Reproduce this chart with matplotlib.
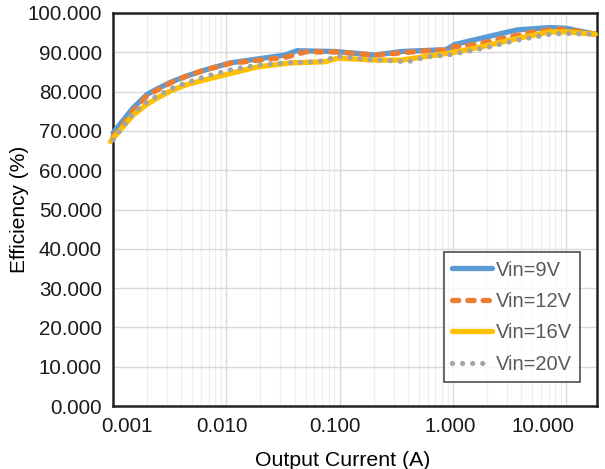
import numpy as np
import matplotlib
matplotlib.use("Agg")
import matplotlib.pyplot as plt
import matplotlib.transforms as mtransforms
from matplotlib.ticker import FixedLocator, FuncFormatter, NullFormatter, LogLocator

plt.rcParams['font.family'] = ['Liberation Sans', 'DejaVu Sans']

# ---- data (output current in A, efficiency in %)
x_9v = [0.001, 0.0015, 0.002, 0.0025, 0.0033, 0.0045, 0.0065, 0.0108, 0.033, 0.042,
        0.091, 0.205, 0.35, 0.74, 0.85, 1.04, 1.85, 3.68, 7.2, 10, 18]
eff_9v = [69.5, 75.8, 79.3, 80.8, 82.5, 84.0, 85.5, 87.3, 89.3, 90.4,
          90.2, 89.3, 90.2, 90.6, 90.5, 92.0, 93.7, 95.7, 96.3, 96.1, 94.6]

x_12v = [0.001, 0.0015, 0.002, 0.0025, 0.0033, 0.0045, 0.0065, 0.0108, 0.033, 0.05,
         0.091, 0.205, 0.53, 0.85, 1.04, 1.6, 2.6, 5.1, 8.3, 12.5, 18]
eff_12v = [68.5, 75.0, 79.0, 80.5, 82.4, 84.0, 85.5, 87.2, 88.7, 90.1,
           90.1, 89.3, 90.3, 90.6, 91.4, 92.0, 93.4, 95.2, 95.9, 95.4, 94.6]

x_16v = [0.00095, 0.0015, 0.002, 0.0025, 0.0033, 0.0045, 0.0065, 0.0108, 0.019, 0.037,
         0.074, 0.097, 0.205, 0.35, 0.6, 1.04, 1.85, 3.68, 7.2, 10, 18]
eff_16v = [67.3, 74.0, 76.8, 78.5, 80.3, 81.8, 83.0, 84.6, 86.3, 87.3,
           87.6, 88.5, 88.0, 88.0, 89.0, 90.0, 91.5, 93.5, 95.2, 95.2, 94.6]

x_20v = [0.001, 0.0015, 0.002, 0.0025, 0.0033, 0.0045, 0.0065, 0.0108, 0.019, 0.033,
         0.064, 0.079, 0.097, 0.178, 0.40, 0.60, 0.9, 1.85, 3.68, 7.2, 10, 18]
eff_20v = [67.7, 74.5, 77.3, 79.0, 80.8, 82.3, 83.8, 85.5, 86.8, 87.3,
           87.6, 88.2, 89.0, 88.2, 87.6, 88.9, 89.3, 91.0, 93.1, 94.6, 94.8, 94.6]

labels = ['Vin=9V', 'Vin=12V', 'Vin=16V', 'Vin=20V']
x_ticks = [0.001, 0.01, 0.1, 1, 10]
# the chart tool nudged the x labels a little off their gridlines (pixels)
x_label_shift = [14, -4, -5, -3, -23]


fig = plt.figure(figsize=(6.05, 4.69), dpi=100)
ax = fig.add_axes([0.1868, 0.1343, 0.80, 0.838])

lw = 3.8
ax.plot(x_9v, eff_9v, color='#5B9BD5', lw=lw, solid_capstyle='round',
        solid_joinstyle='round', label=labels[0], clip_on=False, zorder=3)
ax.plot(x_12v, eff_12v, color='#ED7D31', lw=lw, linestyle=(0, (1.2, 1.7)),
        dash_capstyle='round', label=labels[1], clip_on=False, zorder=4)
ax.plot(x_16v, eff_16v, color='#FFC000', lw=lw, solid_capstyle='round',
        solid_joinstyle='round', label=labels[2], clip_on=False, zorder=5)
ax.plot(x_20v, eff_20v, color='#A5A5A5', lw=lw, linestyle=(0, (0.01, 1.9)),
        dash_capstyle='round', label=labels[3], clip_on=False, zorder=6)

ax.set_xscale('log')
ax.set_xlim(0.001, 18.7)
ax.set_ylim(0, 100)
ax.yaxis.set_major_locator(FixedLocator(np.arange(0, 101, 10)))
ax.yaxis.set_major_formatter(FuncFormatter(lambda v, p: '%.3f' % v))
ax.xaxis.set_major_locator(FixedLocator(x_ticks))
ax.xaxis.set_major_formatter(FuncFormatter(lambda v, p: '%.3f' % v))
ax.xaxis.set_minor_locator(LogLocator(base=10, subs=np.arange(2, 10)))
ax.xaxis.set_minor_formatter(NullFormatter())

ax.grid(True, which='major', color='#D9D9D9', lw=1.0, zorder=0)
ax.grid(True, which='minor', axis='x', color='#EEEEEE', lw=0.9, zorder=0)
ax.set_axisbelow(True)

ax.tick_params(axis='both', which='both', length=0, labelsize=14.8, colors='#1a1a1a')
ax.tick_params(axis='y', pad=8)
ax.tick_params(axis='x', pad=8)

for tick, dx in zip(ax.xaxis.get_major_ticks(len(x_ticks)), x_label_shift):
    off = mtransforms.ScaledTranslation(dx / 100.0, 0, fig.dpi_scale_trans)
    tick.label1.set_transform(tick.label1.get_transform() + off)

for s in ax.spines.values():
    s.set_color('#222222')
    s.set_linewidth(1.8)

ax.set_xlabel('Output Current (A)', fontsize=15.3, labelpad=10)
ax.xaxis.set_label_coords(0.475, -0.115)
ax.set_ylabel('Efficiency (%)', fontsize=15, labelpad=-1)

leg = ax.legend(loc='lower right', bbox_to_anchor=(0.965, 0.061), fontsize=14.5,
                frameon=True, fancybox=False, handlelength=2.0, handletextpad=0.2,
                borderpad=0.4, labelspacing=0.62, borderaxespad=0)
leg.get_frame().set_edgecolor('#222222')
leg.get_frame().set_linewidth(1.2)
for t in leg.get_texts():
    t.set_color('#595959')

fig.savefig('out.png', dpi=100)
